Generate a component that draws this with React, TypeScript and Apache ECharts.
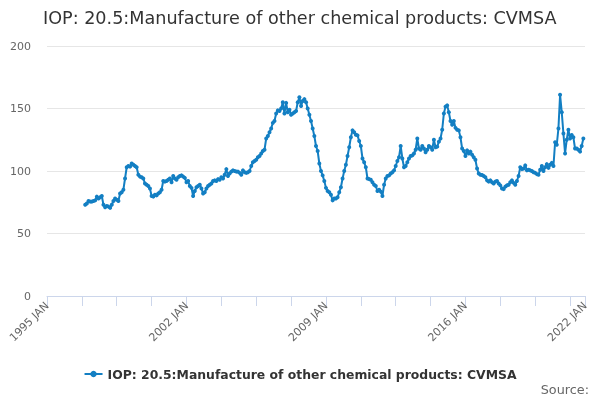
import React, { useEffect, useRef } from "react";
import * as echarts from "echarts";

const TITLE = "IOP: 20.5:Manufacture of other chemical products: CVMSA";
const SERIES_NAME = "IOP: 20.5:Manufacture of other chemical products: CVMSA";
const MONTHS = ["JAN", "FEB", "MAR", "APR", "MAY", "JUN", "JUL", "AUG", "SEP", "OCT", "NOV", "DEC"];
const FIRST_YEAR = 1995;
const LAST_YEAR = 2022; // axis ends at LAST_YEAR JAN
const Y_TICKS = [0, 50, 100, 150, 200];

// monthly values, first one is 1996 DEC
const v1996 = [73];
const v1997 = [74, 76, 75.5, 75.5, 76, 76.5, 79.5, 78, 79, 80, 73, 71];
const v1998 = [72, 71.5, 70.5, 73, 76, 78, 77, 76, 82, 83, 85, 94];
const v1999 = [103, 104, 103.5, 106, 105, 104, 103, 97, 95.5, 95, 94, 90];
const v2000 = [89, 88, 86, 80, 79.5, 81, 80.5, 82, 83, 85, 92, 91.5];
const v2001 = [92, 93, 94, 91, 96, 94, 93, 95, 96, 96.5, 95.5, 94.5];
const v2002 = [91, 92, 88, 86.5, 80, 84, 87, 88, 89, 86, 82, 83];
const v2003 = [86, 88, 89, 90, 92, 92.5, 92, 93.5, 93, 95, 94, 97];
const v2004 = [101.5, 96, 98, 99.5, 100.5, 100, 99.5, 99.5, 98.5, 97, 100.5, 99];
const v2005 = [98.5, 99, 100, 104, 107, 108, 109, 111, 112, 114, 116, 117];
const v2006 = [126, 128, 131, 134, 138.5, 140, 146, 148.5, 148, 150, 155, 146];
const v2007 = [154.5, 147, 149, 145, 146, 147, 148, 155, 159, 152, 156, 157.5];
const v2008 = [155, 150, 145, 140, 134, 128, 120, 116, 106, 100, 96.5, 92];
const v2009 = [86.5, 84, 83, 81, 76.5, 78, 78, 79, 83, 87, 94, 100];
const v2010 = [105, 112, 119, 127, 132.5, 131, 129, 128.5, 124, 120, 110, 107];
const v2011 = [103, 94, 93.5, 93, 91, 89, 88, 84, 85, 83.5, 80, 89];
const v2012 = [94, 96, 96.5, 98, 99, 100.5, 104, 108, 111, 120, 110, 103];
const v2013 = [104, 107, 110, 112, 112.5, 114, 117, 126, 118, 117, 120, 118];
const v2014 = [115, 117, 120, 119, 117, 125, 119, 119.5, 123.5, 126, 133, 146];
const v2015 = [151.5, 152.5, 147, 140, 137, 140, 134.5, 133, 132.5, 127, 118, 116];
const v2016 = [112, 116.5, 114, 115.5, 113, 111, 109, 102, 98, 97, 96.8, 96];
const v2017 = [95, 92.5, 91.5, 92.5, 91, 90, 91.5, 92, 90, 88.5, 86, 85.5];
const v2018 = [87.5, 88.5, 89, 91, 92.5, 90.5, 89, 92, 96, 103, 101.5, 102];
const v2019 = [104.5, 100.5, 101, 100.5, 100, 99, 98.5, 97.5, 97, 101, 104, 100];
const v2020 = [103, 105.5, 102.5, 105, 106.5, 104, 123, 121, 134, 161, 147, 130];
const v2021 = [114, 125, 133, 126, 128.8, 127, 118, 118, 117, 115.5, 120, 126];

const LEADING_EMPTY_MONTHS = 23; // 1995 JAN .. 1996 NOV

export default function App() {
  const ref = useRef<HTMLDivElement>(null);

  useEffect(() => {
    if (!ref.current) return;
    const chart = echarts.init(ref.current, undefined, { renderer: "svg" });

    const categories: string[] = [];
    for (let y = FIRST_YEAR; y < LAST_YEAR; y++) {
      for (const m of MONTHS) categories.push(`${y} ${m}`);
    }
    categories.push(`${LAST_YEAR} JAN`);
    const last = categories.length - 1;

    const values: (number | null)[] = [];
    for (let i = 0; i < LEADING_EMPTY_MONTHS; i++) values.push(null);
    values.push(
      ...v1996, ...v1997, ...v1998, ...v1999, ...v2000, ...v2001, ...v2002,
      ...v2003, ...v2004, ...v2005, ...v2006, ...v2007, ...v2008, ...v2009,
      ...v2010, ...v2011, ...v2012, ...v2013, ...v2014, ...v2015, ...v2016,
      ...v2017, ...v2018, ...v2019, ...v2020, ...v2021
    );

    const font = "DejaVu Sans";
    const color = "#137fc3";

    chart.setOption({
      animation: false,
      textStyle: { fontFamily: font },
      title: {
        text: TITLE,
        left: 38,
        top: 4,
        textStyle: { fontFamily: font, fontSize: 17.6, fontWeight: "normal", color: "#333333" },
      },
      legend: {
        data: [SERIES_NAME],
        bottom: 15,
        left: "center",
        itemWidth: 18,
        itemHeight: 8,
        itemGap: 6,
        textStyle: { fontFamily: font, fontSize: 12.4, fontWeight: "bold", color: "#333333" },
      },
      grid: { left: 47, right: 15, top: 46, bottom: 104, containLabel: false },
      xAxis: {
        type: "category",
        data: categories,
        boundaryGap: false,
        axisLine: { lineStyle: { color: "#ccd6eb" } },
        axisTick: {
          show: true,
          length: 10,
          lineStyle: { color: "#ccd6eb" },
          interval: (i: number) => i % 21 === 0 || i === last,
        },
        axisLabel: {
          interval: (i: number) => i % 84 === 0 || i === last,
          rotate: 45,
          margin: 8,
          color: "#666666",
          fontSize: 11,
          fontFamily: font,
        },
        splitLine: { show: false },
      },
      yAxis: {
        type: "value",
        min: Y_TICKS[0],
        max: Y_TICKS[Y_TICKS.length - 1],
        interval: 50,
        axisLine: { show: false },
        axisTick: { show: false },
        axisLabel: { color: "#666666", fontSize: 11, fontFamily: font, margin: 16 },
        splitLine: { lineStyle: { color: "#e6e6e6" } },
      },
      series: [
        {
          name: SERIES_NAME,
          type: "line",
          data: values,
          showAllSymbol: true,
          symbol: "circle",
          symbolSize: 4,
          connectNulls: false,
          lineStyle: { width: 2, color },
          itemStyle: { color },
        },
      ],
      graphic: [
        {
          type: "text",
          right: 11,
          bottom: 4,
          style: { text: "Source:", fontFamily: font, fontSize: 12.8, fill: "#666666" },
        },
      ],
    });

    return () => chart.dispose();
  }, []);

  return (
    <div
      ref={ref}
      style={{ position: "fixed", left: 0, top: 0, width: 600, height: 400 }}
    />
  );
}
